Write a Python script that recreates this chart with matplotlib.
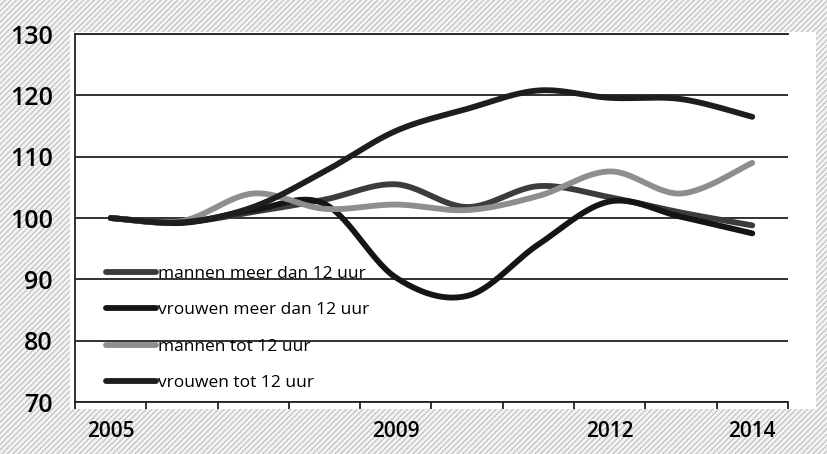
import numpy as np
import matplotlib
matplotlib.use("Agg")
import matplotlib.pyplot as plt
from matplotlib.ticker import FixedLocator, NullFormatter

plt.rcParams['font.family'] = ['Open Sans', 'DejaVu Sans']
plt.rcParams['hatch.linewidth'] = 0.6

# data (index, 2005 = 100)
years = [2005, 2006, 2007, 2008, 2009, 2010, 2011, 2012, 2013, 2014]
shown_years = [2005, 2009, 2012, 2014]
mannen_meer = [100, 99.3, 101.0, 103.0, 105.5, 101.8, 105.2, 103.4, 100.9, 98.8]
vrouwen_meer = [100, 99.2, 101.3, 102.3, 90.3, 87.3, 95.7, 102.7, 100.2, 97.5]
mannen_tot = [100, 99.5, 104.0, 101.5, 102.2, 101.3, 103.6, 107.6, 104.0, 109.0]
vrouwen_tot = [100, 99.3, 101.8, 107.6, 114.2, 117.8, 120.8, 119.6, 119.4, 116.5]

labels = ["mannen meer dan 12 uur", "vrouwen meer dan 12 uur",
          "mannen tot 12 uur", "vrouwen tot 12 uur"]
colors = ["#3c3c3c", "#151515", "#8e8e8e", "#1e1e1e"]


def smooth(y, n=30):
    # excel style smoothed line: bezier with catmull-rom control points
    y = np.asarray(y, float)
    x = np.arange(len(y), dtype=float)
    px = np.concatenate([[x[0]], x, [x[-1]]])
    py = np.concatenate([[y[0]], y, [y[-1]]])
    t = np.linspace(0, 1, n)[:, None]
    xs, ys = [], []
    for i in range(len(y) - 1):
        p0 = np.array([px[i + 1], py[i + 1]])
        p3 = np.array([px[i + 2], py[i + 2]])
        p1 = p0 + (p3 - np.array([px[i], py[i]])) / 6
        p2 = p3 - (np.array([px[i + 3], py[i + 3]]) - p0) / 6
        b = ((1 - t) ** 3) * p0 + 3 * ((1 - t) ** 2) * t * p1 + 3 * (1 - t) * t ** 2 * p2 + t ** 3 * p3
        xs.append(b[:, 0])
        ys.append(b[:, 1])
    return np.concatenate(xs), np.concatenate(ys)


fig = plt.figure(figsize=(8.28, 4.54), dpi=100)
fig.patch.set_facecolor('#f2f2f2')
fig.patch.set_edgecolor('#b0b0b0')
fig.patch.set_hatch('//////')

# white chart area behind the plot
bg = fig.add_axes([0.085, 0.1, 0.90, 0.83])
bg.set_facecolor('white')
bg.set_xticks([])
bg.set_yticks([])
for s in bg.spines.values():
    s.set_visible(False)

ax = fig.add_axes([0.0906, 0.1145, 0.861, 0.8105])
ax.set_facecolor('white')

for vals, lab, col in zip([mannen_meer, vrouwen_meer, mannen_tot, vrouwen_tot], labels, colors):
    sx, sy = smooth(vals)
    ax.plot(sx, sy, color=col, lw=4.2, solid_capstyle='round', label=lab, zorder=3)

ax.set_xlim(-0.5, len(years) - 0.5)
ax.set_ylim(70, 130)
ax.set_yticks(range(70, 131, 10))
ax.yaxis.grid(True, color='#222222', lw=1.3)
ax.set_axisbelow(True)
ax.tick_params(axis='y', length=0, pad=16, labelsize=18)

ax.xaxis.set_major_locator(FixedLocator([years.index(y) for y in shown_years]))
ax.set_xticklabels([str(y) for y in shown_years])
ax.xaxis.set_minor_locator(FixedLocator(np.arange(-0.5, len(years), 1.0)))
ax.xaxis.set_minor_formatter(NullFormatter())
ax.tick_params(axis='x', which='major', length=0, pad=14, labelsize=15)
ax.tick_params(axis='x', which='minor', length=5, width=1.3, direction='out', color='#222222')

for lab in ax.get_xticklabels() + ax.get_yticklabels():
    lab.set_fontweight('semibold')

ax.spines['right'].set_visible(False)
for side in ['top', 'left', 'bottom']:
    ax.spines[side].set_color('#222222')
    ax.spines[side].set_linewidth(1.3)

leg = ax.legend(loc='lower left', bbox_to_anchor=(0.027, 0.0), frameon=False,
                fontsize=12.5, handlelength=2.9, handletextpad=0.1, labelspacing=1.15,
                borderaxespad=0.25)

fig.savefig("out.png", dpi=100, facecolor=fig.get_facecolor())
